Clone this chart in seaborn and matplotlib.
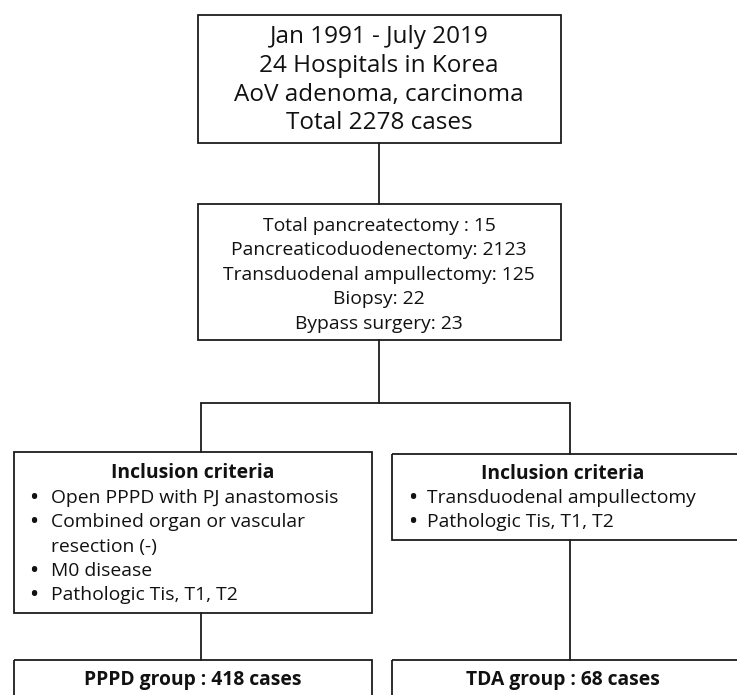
import matplotlib
matplotlib.use("Agg")
import matplotlib.pyplot as plt
from matplotlib.patches import Rectangle
import seaborn as sns


# chart content
study_lines = ["Jan 1991 - July 2019", "24 Hospitals in Korea", "AoV adenoma, carcinoma", "Total 2278 cases"]
surgery_lines = ["Total pancreatectomy : 15", "Pancreaticoduodenectomy: 2123",
                 "Transduodenal ampullectomy: 125", "Biopsy: 22", "Bypass surgery: 23"]
criteria_title = "Inclusion criteria"
pppd_criteria = [["Open PPPD with PJ anastomosis"], ["Combined organ or vascular", "resection (-)"],
                 ["M0 disease"], ["Pathologic Tis, T1, T2"]]
tda_criteria = [["Transduodenal ampullectomy"], ["Pathologic Tis, T1, T2"]]
group_labels = ["PPPD group : 418 cases", "TDA group : 68 cases"]

sns.set_style("white")
plt.rcParams["font.family"] = ["Open Sans", "DejaVu Sans"]

W, H = 737, 695
fig = plt.figure(figsize=(W / 100, H / 100), dpi=100)
ax = fig.add_axes([0, 0, 1, 1])
ax.set_xlim(0, W)
ax.set_ylim(H, 0)
ax.axis("off")

EDGE = "#1c1c1c"
TXT = "#111111"
LW = 1.3
BIG = 17.5
SMALL = 13.9


def box(x0, y0, x1, y1):
	ax.add_patch(Rectangle((x0, y0), x1 - x0, y1 - y0, fill=False, edgecolor=EDGE, linewidth=LW, zorder=2))


def connector(xs, ys):
	sns.lineplot(x=xs, y=ys, ax=ax, color=EDGE, linewidth=LW, estimator=None, sort=False, legend=False)


def center_lines(lines, cx, y_first, step, size, weight="normal"):
	for i, t in enumerate(lines):
		ax.text(cx, y_first + i * step, t, ha="center", va="center", fontsize=size, fontweight=weight, color=TXT)


def bullet_list(items, x_bullet, x_text, y_first, step, size):
	y = y_first
	for item in items:
		ax.text(x_bullet, y, "\u2022", ha="center", va="center", fontsize=size, fontweight="bold", color=TXT)
		for part in item:
			ax.text(x_text, y, part, ha="left", va="center", fontsize=size, color=TXT)
			y += step


# boxes
box(198, 15, 561, 143)
box(198, 204, 561, 340)
box(14, 452, 372, 613)
box(392, 454, 745, 540)
box(14, 660, 372, 720)
box(392, 660, 745, 720)

# connectors
connector([379, 379], [143, 204])
connector([379, 379], [340, 403])
connector([201, 570], [403, 403])
connector([201, 201], [403, 452])
connector([570, 570], [403, 454])
connector([201, 201], [613, 660])
connector([570, 570], [540, 660])

# texts
center_lines(study_lines, 379, 37, 28.8, BIG)
center_lines(surgery_lines, 379, 226, 24.4, SMALL)

center_lines([criteria_title], 193, 473, 0, SMALL, weight="bold")
bullet_list(pppd_criteria, 34, 51, 498, 24.3, SMALL)

center_lines([criteria_title], 563, 474, 0, SMALL, weight="bold")
bullet_list(tda_criteria, 413, 427, 498, 24.3, SMALL)

center_lines([group_labels[0]], 193, 680, 0, SMALL, weight="bold")
center_lines([group_labels[1]], 563, 680, 0, SMALL, weight="bold")

fig.savefig("out.png", dpi=100)
